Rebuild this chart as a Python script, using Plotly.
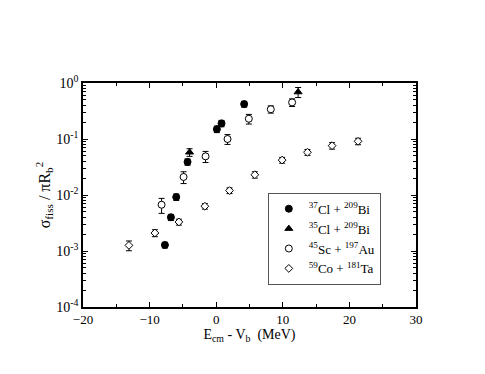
import plotly.graph_objects as go

# 37Cl + 209Bi
cl37_x = [-7.7, -6.8, -6.0, -4.3, 0.1, 0.8, 4.2]
cl37_y = [1.28e-3, 4.0e-3, 9.2e-3, 0.039, 0.15, 0.19, 0.42]
cl37_err = [0.15e-3, 0.5e-3, 1.2e-3, 0.005, 0.02, 0.025, 0.05]

# 35Cl + 209Bi
cl35_x = [-4.0, 12.3]
cl35_y = [0.058, 0.69]
cl35_err = [0.009, 0.14]

# 45Sc + 197Au
sc_x = [-8.2, -4.9, -1.6, 1.7, 4.9, 8.2, 11.4]
sc_y = [6.7e-3, 0.021, 0.049, 0.10, 0.23, 0.34, 0.45]
sc_err = [2.0e-3, 0.005, 0.011, 0.02, 0.045, 0.05, 0.07]

# 59Co + 181Ta
co_x = [-13.1, -9.2, -5.6, -1.7, 2.0, 5.8, 9.9, 13.7, 17.4, 21.3]
co_y = [1.26e-3, 2.1e-3, 3.3e-3, 6.3e-3, 0.012, 0.023, 0.042, 0.058, 0.076, 0.091]
co_err = [0.25e-3, 0.3e-3, 0.4e-3, 0.7e-3, 0.0014, 0.003, 0.005, 0.007, 0.01, 0.012]

y_tickvals = [1e-4, 1e-3, 1e-2, 1e-1, 1]
y_ticktext = ["10<sup>-4</sup>", "10<sup>-3</sup>", "10<sup>-2</sup>", "10<sup>-1</sup>", "10<sup>0</sup>"]
y_minor = [m * 10 ** e for e in range(-4, 0) for m in range(2, 10)]

font = "Liberation Serif, Times New Roman, serif"


def err(vals):
    return dict(type="data", array=vals, visible=True, color="black", thickness=1, width=3)


fig = go.Figure()

series = [
    (cl37_x, cl37_y, cl37_err, "<sup>37</sup>Cl + <sup>209</sup>Bi", "circle", "black", 7),
    (cl35_x, cl35_y, cl35_err, "<sup>35</sup>Cl + <sup>209</sup>Bi", "triangle-up", "black", 7),
    (sc_x, sc_y, sc_err, "<sup>45</sup>Sc + <sup>197</sup>Au", "circle", "white", 7),
    (co_x, co_y, co_err, "<sup>59</sup>Co + <sup>181</sup>Ta", "diamond", "white", 6),
]
for x, y, e, name, sym, fill, size in series:
    fig.add_trace(go.Scatter(
        x=x, y=y, mode="markers", name=name, error_y=err(e),
        marker=dict(symbol=sym, color=fill, size=size, line=dict(color="black", width=1)),
    ))

fig.update_layout(
    width=485, height=374,
    paper_bgcolor="white", plot_bgcolor="white",
    margin=dict(l=75, r=77, t=75, b=75),
    font=dict(family=font, size=13, color="black"),
    legend=dict(
        x=0.555, y=0.51, xanchor="left", yanchor="top",
        bordercolor="#555", borderwidth=1, bgcolor="white",
        font=dict(family=font, size=13), tracegroupgap=0, itemwidth=30,
    ),
)

fig.update_xaxes(
    range=[-20, 30], dtick=10, tick0=0,
    ticks="inside", ticklen=5, tickcolor="black",
    tickfont=dict(family=font, size=13),
    minor=dict(dtick=5, ticks="inside", ticklen=3, tickcolor="black"),
    showline=True, linecolor="black", linewidth=1.5, mirror="ticks",
    showgrid=False, zeroline=False,
    title=dict(text="E<sub>cm</sub> - V<sub>b</sub>  (MeV)", standoff=0,
               font=dict(family=font, size=14)),
)
fig.update_yaxes(
    type="log", range=[-4, 0],
    tickmode="array", tickvals=y_tickvals, ticktext=y_ticktext,
    ticks="inside", ticklen=5, tickcolor="black",
    tickfont=dict(family=font, size=14),
    minor=dict(tickmode="array", tickvals=y_minor, ticks="inside", ticklen=3, tickcolor="black"),
    showline=True, linecolor="black", linewidth=1.5, mirror="ticks",
    showgrid=False, zeroline=False,
    title=dict(text="σ<sub>fiss</sub> / πR<sub>b</sub><sup>2</sup>", standoff=2,
               font=dict(family=font, size=16)),
)

fig.write_html("out.html")
